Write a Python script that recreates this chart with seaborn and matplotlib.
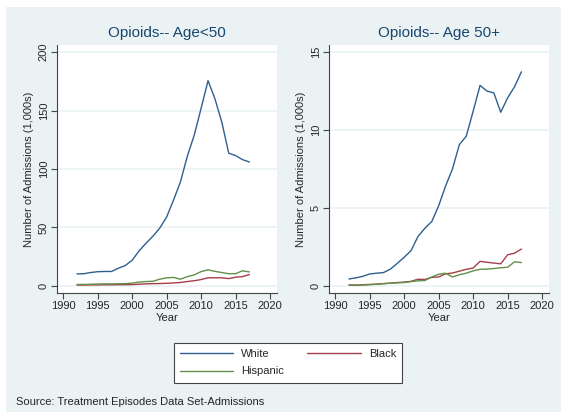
import numpy as np
import pandas as pd
import matplotlib
import matplotlib.pyplot as plt
import matplotlib.patches as mpatches
from matplotlib.lines import Line2D
import seaborn as sns

matplotlib.use("Agg")

# ── Data (admissions, 1,000s) ─────────────────────────────────────────────────
years = list(range(1992, 2018))

white_u50 = [10.3, 10.5, 11.5, 12.2, 12.4, 12.4, 15.2, 17.5, 22.0, 30.0,
             36.5, 42.5, 49.5, 59.0, 73.5, 89.0, 111.0, 129.0, 152.0, 175.5,
             160.0, 140.0, 113.5, 111.5, 108.0, 106.0]
black_u50 = [0.8, 0.8, 0.9, 0.9, 1.0, 1.0, 1.1, 1.1, 1.2, 1.5,
             1.8, 2.0, 2.1, 2.3, 2.6, 3.0, 3.8, 4.5, 5.5, 7.0,
             7.0, 7.0, 6.3, 7.5, 8.0, 9.8]
hisp_u50 = [1.3, 1.3, 1.5, 1.7, 1.8, 1.8, 1.9, 2.0, 2.5, 3.3,
            3.8, 4.0, 5.8, 7.0, 7.3, 5.8, 8.0, 9.5, 12.3, 13.8,
            12.5, 11.5, 10.5, 10.5, 13.0, 12.0]

white_50p = [0.45, 0.52, 0.62, 0.77, 0.82, 0.86, 1.08, 1.45, 1.84, 2.27,
             3.17, 3.70, 4.13, 5.14, 6.40, 7.50, 9.06, 9.60, 11.20, 12.86,
             12.50, 12.38, 11.14, 12.06, 12.77, 13.73]
black_50p = [0.07, 0.06, 0.08, 0.10, 0.12, 0.15, 0.18, 0.22, 0.25, 0.30,
             0.43, 0.42, 0.55, 0.58, 0.78, 0.83, 0.95, 1.07, 1.15, 1.58,
             1.52, 1.47, 1.42, 2.00, 2.10, 2.37]
hisp_50p = [0.05, 0.04, 0.06, 0.08, 0.11, 0.15, 0.18, 0.20, 0.22, 0.28,
            0.33, 0.35, 0.58, 0.75, 0.82, 0.58, 0.72, 0.82, 0.97, 1.07,
            1.08, 1.12, 1.17, 1.20, 1.55, 1.50]

groups = ["White", "Black", "Hispanic"]
palette = {"White": "#2f5f8f", "Black": "#a63e48", "Hispanic": "#62904a"}

BG = "#eaf2f3"
NAVY = "#1a476f"


def long_df(white, black, hisp):
    parts = []
    for g, vals in zip(groups, [white, black, hisp]):
        parts.append(pd.DataFrame({"Year": years, "value": vals, "group": g}))
    return pd.concat(parts, ignore_index=True)


sns.set_style("white")
plt.rcParams["font.family"] = ["Liberation Sans", "DejaVu Sans"]

fig = plt.figure(figsize=(5.61, 4.12), dpi=100)
fig.patch.set_facecolor("white")
fig.add_artist(mpatches.Rectangle((6 / 561, 0), 1, 1 - 7 / 412,
                                  transform=fig.transFigure,
                                  facecolor=BG, edgecolor="none", zorder=-10))

ax1 = fig.add_axes([57 / 561, 1 - 293 / 412, 220 / 561, 248 / 412])
ax2 = fig.add_axes([329 / 561, 1 - 293 / 412, 220 / 561, 248 / 412])

panels = [
    (ax1, long_df(white_u50, black_u50, hisp_u50), "Opioids-- Age<50",
     [0, 50, 100, 150, 200], (-6, 206)),
    (ax2, long_df(white_50p, black_50p, hisp_50p), "Opioids-- Age 50+",
     [0, 5, 10, 15], (-0.45, 15.45)),
]

for ax, df, title, yticks, ylim in panels:
    ax.set_facecolor("white")
    sns.lineplot(data=df, x="Year", y="value", hue="group", palette=palette,
                 hue_order=groups, linewidth=1.0, ax=ax, legend=False)
    ax.set_xlim(1989.1, 2021.0)
    ax.set_ylim(*ylim)
    ax.set_xticks([1990, 1995, 2000, 2005, 2010, 2015, 2020])
    ax.set_yticks(yticks)
    ax.set_yticklabels([str(t) for t in yticks], rotation=90, va="center")
    for t in yticks:
        ax.axhline(t, color=BG, linewidth=1.2, zorder=0)
    for s in ["top", "right"]:
        ax.spines[s].set_visible(False)
    for s in ["left", "bottom"]:
        ax.spines[s].set_color("#444444")
        ax.spines[s].set_linewidth(0.8)
    ax.tick_params(axis="both", length=4, width=0.8, color="#444444",
                   labelsize=8, pad=2, direction="out")
    ax.tick_params(bottom=True, left=True)
    ax.set_title(title, fontsize=11, color=NAVY, pad=6)
    ax.set_xlabel("Year", fontsize=8, labelpad=1)
    ax.set_ylabel("Number of Admissions (1,000s)", fontsize=8, labelpad=3)

# column-major fill: White / Hispanic in first column, Black in second
leg_order = ["White", "Hispanic", "Black"]
handles = [Line2D([0], [0], color=palette[g], linewidth=1.0) for g in leg_order]
leg = fig.legend(handles, leg_order, loc="center", ncol=2,
                 bbox_to_anchor=(288 / 561, 1 - 362.5 / 412),
                 fontsize=8, frameon=True, fancybox=False, framealpha=1,
                 handlelength=4.8, columnspacing=2.1, handletextpad=0.72,
                 labelspacing=0.7, borderpad=0.55)
leg.get_frame().set_edgecolor("#444444")
leg.get_frame().set_linewidth(0.8)
leg.get_frame().set_facecolor("white")

fig.text(16 / 561, 1 - 402 / 412, "Source: Treatment Episodes Data Set-Admissions",
         fontsize=8, ha="left", va="center")

fig.savefig("out.png", dpi=100, facecolor=fig.get_facecolor())
